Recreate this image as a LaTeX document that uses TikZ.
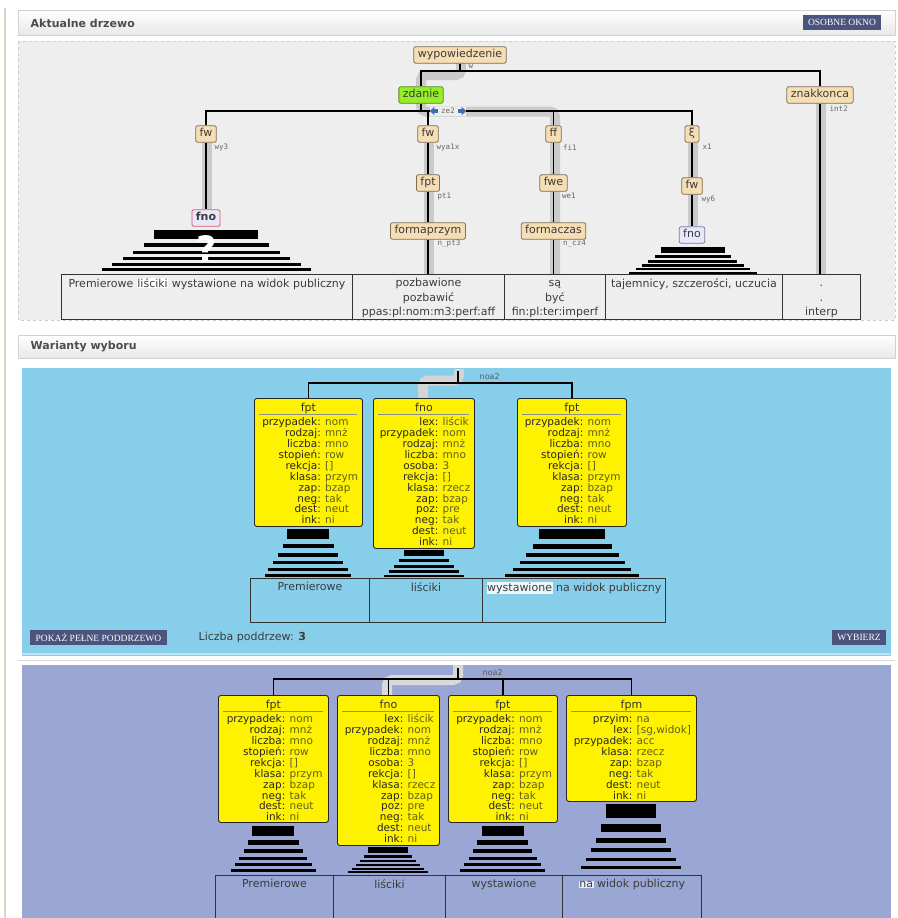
\documentclass[tikz,border=0pt]{standalone}
\usepackage{fontspec}
\setmainfont{DejaVu Sans}
\newfontfamily\dvmono{DejaVu Sans Mono}
\newfontfamily\btnserif{Liberation Serif}
\usetikzlibrary{arrows.meta, positioning, calc}

\definecolor{wheatbg}{RGB}{245,222,179}
\definecolor{nodeedge}{RGB}{125,110,85}
\definecolor{limebg}{RGB}{150,238,40}
\definecolor{limeedge}{RGB}{80,140,20}
\definecolor{lavbg}{RGB}{232,232,252}
\definecolor{rededge}{RGB}{225,85,95}
\definecolor{bluedge}{RGB}{120,120,160}
\definecolor{treebg}{RGB}{238,238,238}
\definecolor{headgray}{RGB}{202,202,202}
\definecolor{btnblue}{RGB}{74,84,124}
\definecolor{skypanel}{RGB}{135,206,235}
\definecolor{lilacpanel}{RGB}{154,167,212}
\definecolor{txtgray}{RGB}{60,60,60}
\definecolor{valolive}{RGB}{95,95,30}
\definecolor{arrowblue}{RGB}{60,110,180}
\definecolor{edgebeige}{RGB}{222,212,192}

% fixed first-line height, so that columns line up
\newcommand\vstrut{\rule{0pt}{8.5pt}}

% feature rows of the yellow boxes
\newcommand\fptKeys{\vstrut przypadek:\\rodzaj:\\liczba:\\stopień:\\rekcja:\\klasa:\\zap:\\neg:\\dest:\\ink:}
\newcommand\fptVals{\vstrut nom\\mnż\\mno\\row\\{[]}\\przym\\bzap\\tak\\neut\\ni}
\newcommand\fnoKeys{\vstrut lex:\\przypadek:\\rodzaj:\\liczba:\\osoba:\\rekcja:\\klasa:\\zap:\\poz:\\neg:\\dest:\\ink:}
\newcommand\fnoVals{\vstrut liścik\\nom\\mnż\\mno\\3\\{[]}\\rzecz\\bzap\\pre\\tak\\neut\\ni}
\newcommand\fpmKeys{\vstrut przyim:\\lex:\\przypadek:\\klasa:\\zap:\\neg:\\dest:\\ink:}
\newcommand\fpmVals{\vstrut na\\{[sg,widok]}\\acc\\rzecz\\bzap\\tak\\neut\\ni}

\newcommand\pyramid[2]{\foreach \w/\ya/\yb in {#2} {\fill ({#1-\w/2},\ya) rectangle ({#1+\w/2},\yb);}}
\newcommand\hlword[2]{{\setlength{\fboxsep}{0.6pt}\colorbox{#1}{#2}}}

\begin{document}
\begin{tikzpicture}[x=1pt, y=-1pt, line width=1.4pt,
    tnode/.style={draw=nodeedge, fill=wheatbg, rounded corners=2pt, line width=0.8pt, inner xsep=4pt, inner ysep=3pt, text height=8pt, text depth=2.5pt, font=\fontsize{11}{13}\selectfont, text=txtgray},
    sub/.style={inner sep=0pt, font=\dvmono\fontsize{7.5}{8}\selectfont, text=black!60},
    headpath/.style={draw=headgray, line width=10pt, rounded corners=5pt},
    cell/.style={draw=black!80, line width=0.9pt, anchor=north west, inner sep=0pt},
    celltext/.style={anchor=north, align=center, inner sep=0pt, yshift=-3.5pt, font=\fontsize{11}{14.5}\selectfont, text=txtgray},
    fbox/.style={draw=black!85, fill=yellow, rounded corners=2.5pt, line width=0.9pt, anchor=north west, inner sep=0pt},
    ftitle/.style={anchor=north, inner sep=0pt, yshift=-4pt, font=\fontsize{11}{13}\selectfont, text=black!80},
    fkeys/.style={anchor=north east, align=right, inner sep=0pt, text=black!85, font=\fontsize{10.5}{10.9}\selectfont},
    fvals/.style={fkeys, anchor=north west, align=left, text=valolive},
    btn/.style={fill=btnblue, text=white, font=\btnserif\fontsize{9.5}{10}\selectfont, inner xsep=5.5pt, inner ysep=0pt, minimum height=15pt},
    hdr/.style={anchor=west, inner sep=0pt, font=\bfseries\fontsize{11}{13}\selectfont, text=black!70},
    fatarrow/.style={-{Triangle[length=4.5pt, width=8pt]}, draw=arrowblue, line width=3.2pt}]
    \useasboundingbox (0,0) rectangle (897,918);
    \fill[white] (0,0) rectangle (897,918);
    \draw[edgebeige, line width=1.5pt] (5,8) -- (5,918);

    % --- current tree ---
    \shade[top color=white, bottom color=black!9, draw=black!18, line width=0.8pt] (18,10) rectangle (895,35);
    \node[hdr] (hdrTree) at (30,23) {Aktualne drzewo};
    \node[btn] (btnOkno) at (842,22.5) {OSOBNE OKNO};
    \draw[black!20, dashed, fill=treebg, line width=0.6pt] (18,41) rectangle (895,320);

    \draw[headpath] (461,63) -- (461,75) -- (421,75) -- (421,86);
    \draw[headpath] (421,103) -- (421,111.5) -- (555,111.5) -- (555,274);
    \draw[headpath] (429,143) -- (429,274);
    \draw[headpath] (207,143) -- (207,209);
    \draw[headpath] (693,143) -- (693,226);
    \draw[headpath] (821,103) -- (821,274);

    \node[tnode] (wyp) at (460,55) {wypowiedzenie};
    \node[tnode, fill=limebg, draw=limeedge] (zdanie) at (421,95) {zdanie};
    \node[tnode] (znak) at (820,95) {znakkonca};
    \node[tnode] (fwA) at (206,134) {fw};
    \node[tnode] (fwB) at (428,134) {fw};
    \node[tnode] (ffC) at (553.5,134) {ff};
    \node[tnode] (xiD) at (692,134) {ξ};
    \node[tnode] (fptB) at (428,183) {fpt};
    \node[tnode] (fweC) at (553.5,183) {fwe};
    \node[tnode] (fwD) at (692,186) {fw};
    \node[tnode, fill=lavbg, draw=rededge, font=\bfseries\fontsize{11}{13}\selectfont] (fnoA) at (206,218) {fno};
    \node[tnode] (formB) at (428,231) {formaprzym};
    \node[tnode] (formC) at (553.5,231) {formaczas};
    \node[tnode, fill=lavbg, draw=bluedge] (fnoD) at (692,235) {fno};

    \node[sub, below right=0pt and 8pt of wyp.south] (lw) {w};
    \node[sub, below right=1pt and 9pt of znak.south] (lint) {int2};
    \node[sub, below right=1pt and 8pt of fwA.south] (lwy3) {wy3};
    \node[sub, below right=1pt and 8pt of fwB.south] (lwya) {wya1x};
    \node[sub, below right=1pt and 9pt of ffC.south] (lfi) {fi1};
    \node[sub, below right=1pt and 10pt of xiD.south] (lx) {x1};
    \node[sub, below right=1pt and 9pt of fptB.south] (lpt) {pt1};
    \node[sub, below right=1pt and 8pt of fweC.south] (lwe) {we1};
    \node[sub, below right=1pt and 9pt of fwD.south] (lwy6) {wy6};
    \node[sub, below right=0pt and 9pt of formB.south] (lnpt) {n\_pt3};
    \node[sub, below right=0pt and 9pt of formC.south] (lncz) {n\_cz4};

    \node[cell, minimum width=291pt, minimum height=45pt] (cA) at (61,274) {};
    \node[cell, minimum width=152pt, minimum height=45pt] (cB) at (352,274) {};
    \node[cell, minimum width=101pt, minimum height=45pt] (cC) at (504,274) {};
    \node[cell, minimum width=177pt, minimum height=45pt] (cD) at (605,274) {};
    \node[cell, minimum width=78pt, minimum height=45pt] (cE) at (782,274) {};
    \node[celltext] (tA) at (cA.north) {\vstrut Premierowe \hlword{white}{liściki} wystawione na widok publiczny};
    \node[celltext] (tB) at (cB.north) {\vstrut pozbawione\\pozbawić\\ppas:pl:nom:m3:perf:aff};
    \node[celltext] (tC) at (cC.north) {\vstrut są\\być\\fin:pl:ter:imperf};
    \node[celltext] (tD) at (cD.north) {\vstrut tajemnicy, szczerości, uczucia};
    \node[celltext] (tE) at (cE.north) {\vstrut .\\.\\interp};

    \coordinate (busW) at (0,71);
    \coordinate (busZ) at (0,111);
    \draw (wyp.south) -- (wyp.south |- busW);
    \draw (zdanie.north) -- (zdanie.north |- busW) -- (znak.north |- busW) -- (znak.north);
    \draw (zdanie.south) -- (zdanie.south |- busZ);
    \draw (fwA.north) -- (fwA.north |- busZ) -- (xiD.north |- busZ) -- (xiD.north);
    \draw (fwB.north) -- (fwB.north |- busZ);
    \draw (ffC.north) -- (ffC.north |- busZ);
    \draw (fwA) -- (fnoA);
    \draw (fwB) -- (fptB);
    \draw (fptB) -- (formB);
    \draw (formB) -- (formB |- cB.north);
    \draw (ffC) -- (fweC);
    \draw (fweC) -- (formC);
    \draw (formC) -- (formC |- cC.north);
    \draw (xiD) -- (fwD);
    \draw (fwD) -- (fnoD);
    \draw (znak) -- (znak |- cE.north);

    \node[sub, fill=treebg, minimum width=36pt, minimum height=9pt] (lze) at (448,111) {ze2};
    \draw[fatarrow] ([xshift=9pt]lze.west) -- ++(-8.5,0);
    \draw[fatarrow] ([xshift=-9pt]lze.east) -- ++(8.5,0);

    \pyramid{206}{104/230/239, 125/243/247, 147/251/254, 167/257/260, 189/263/265.5, 209/268/270.5}
    \pyramid{692.5}{64/247/253, 76/255/257.5, 89/260/262.5, 102/264/266.5, 114/268/270, 128/272/273.5}
    \node[inner sep=0pt, text=white, font=\bfseries\fontsize{35}{35}\selectfont] (qmark) at (207,249) {?};

    % --- variants ---
    \shade[top color=white, bottom color=black!9, draw=black!18, line width=0.8pt] (18,335) rectangle (895,358);
    \node[hdr] (hdrVar) at (30,347) {Warianty wyboru};

    % first variant
    \fill[skypanel] (22,368) rectangle (891,656);
    \draw[skypanel!55!white, line width=2pt] (22,654) -- (891,654);
    \draw[headpath, draw=black!17] (459,369) -- (459,380.5) -- (423,380.5) -- (423,398);

    \node[fbox, minimum width=108pt, minimum height=128pt] (fptA) at (254,398) {};
    \node[fbox, minimum width=101pt, minimum height=150pt] (fnoA2) at (373,398) {};
    \node[fbox, minimum width=109pt, minimum height=128pt] (fptB2) at (517,398) {};
    \node[ftitle] (tfptA) at (fptA.north) {fpt};
    \node[ftitle] (tfnoA2) at (fnoA2.north) {fno};
    \node[ftitle] (tfptB2) at (fptB2.north) {fpt};
    \draw[black!45, line width=0.8pt] (fptA.north west) ++(5,16) -- ++(98,0);
    \draw[black!45, line width=0.8pt] (fnoA2.north west) ++(5,16) -- ++(91,0);
    \draw[black!45, line width=0.8pt] (fptB2.north west) ++(5,16) -- ++(99,0);
    \node[fkeys] (kfptA) at (321.5,416.5) {\fptKeys};
    \node[fvals] (vfptA) at (324.5,416.5) {\fptVals};
    \node[fkeys] (kfnoA2) at (439,416.5) {\fnoKeys};
    \node[fvals] (vfnoA2) at (442,416.5) {\fnoVals};
    \node[fkeys] (kfptB2) at (584,416.5) {\fptKeys};
    \node[fvals] (vfptB2) at (587,416.5) {\fptVals};

    \coordinate (rootA) at (458,371);
    \coordinate (busA) at (458,383);
    \draw (rootA) -- (busA);
    \draw (fptA.north) -- (fptA.north |- busA) -- (fptB2.north |- busA) -- (fptB2.north);
    \node[inner sep=0pt, anchor=west, font=\fontsize{8}{9}\selectfont, text=black!65] (noaA) at (479,376.5) {noa2};

    \pyramid{308}{42/529/539, 51/544/548, 60/553/557, 70/561/564, 80/568/571, 86/574/577}
    \pyramid{424}{40/550/556, 50/559/562, 60/565/567.5, 70/570/572.5, 80/575/577}
    \pyramid{572}{66/529/539, 79/544/549, 93/553/557, 105/561/564, 118/568/571, 134/574/577}

    \node[cell, minimum width=119pt, minimum height=44pt] (bA) at (250,578) {};
    \node[cell, minimum width=113pt, minimum height=44pt] (bB) at (369,578) {};
    \node[cell, minimum width=183pt, minimum height=44pt] (bC) at (482,578) {};
    \node[celltext] (tbA) at (bA.north) {\vstrut Premierowe};
    \node[celltext] (tbB) at (bB.north) {\vstrut liściki};
    \node[celltext] (tbC) at (bC.north) {\vstrut\hlword{white!85!skypanel}{wystawione} na widok publiczny};

    \node[btn] (btnPokaz) at (98.5,637.5) {POKAŻ PEŁNE PODDRZEWO};
    \node[anchor=west, inner sep=0pt, font=\fontsize{11}{13}\selectfont, text=txtgray] (liczba) at (198,637.5) {Liczba poddrzew: \textbf{3}};
    \node[btn] (btnWybierz) at (859,637.5) {WYBIERZ};

    \draw[black!15, line width=1pt] (18,660) -- (895,660);

    % second variant
    \fill[lilacpanel] (22,665) rectangle (891,918);
    \draw[headpath, draw=black!15] (458,665) -- (458,680) -- (387,680) -- (387,695);

    \node[fbox, minimum width=110pt, minimum height=127pt] (fptC) at (218,695) {};
    \node[fbox, minimum width=102pt, minimum height=150pt] (fnoC) at (337,695) {};
    \node[fbox, minimum width=109pt, minimum height=127pt] (fptD) at (448,695) {};
    \node[fbox, minimum width=130pt, minimum height=106pt] (fpmD) at (566,695) {};
    \node[ftitle] (tfptC) at (fptC.north) {fpt};
    \node[ftitle] (tfnoC) at (fnoC.north) {fno};
    \node[ftitle] (tfptD) at (fptD.north) {fpt};
    \node[ftitle] (tfpmD) at (fpmD.north) {fpm};
    \draw[black!45, line width=0.8pt] (fptC.north west) ++(5,16.5) -- ++(100,0);
    \draw[black!45, line width=0.8pt] (fnoC.north west) ++(5,16.5) -- ++(92,0);
    \draw[black!45, line width=0.8pt] (fptD.north west) ++(5,16.5) -- ++(99,0);
    \draw[black!45, line width=0.8pt] (fpmD.north west) ++(5,16.5) -- ++(120,0);
    \node[fkeys] (kfptC) at (286,713.5) {\fptKeys};
    \node[fvals] (vfptC) at (289,713.5) {\fptVals};
    \node[fkeys] (kfnoC) at (404,713.5) {\fnoKeys};
    \node[fvals] (vfnoC) at (407,713.5) {\fnoVals};
    \node[fkeys] (kfptD) at (515.5,713.5) {\fptKeys};
    \node[fvals] (vfptD) at (518.5,713.5) {\fptVals};
    \node[fkeys] (kfpmD) at (633,713.5) {\fpmKeys};
    \node[fvals] (vfpmD) at (636,713.5) {\fpmVals};

    \coordinate (rootB) at (458,668);
    \coordinate (busB) at (458,679);
    \draw (rootB) -- (busB);
    \draw (fptC.north) -- (fptC.north |- busB) -- (fpmD.north |- busB) -- (fpmD.north);
    \draw (fnoC.north) -- (fnoC.north |- busB);
    \draw (fptD.north) -- (fptD.north |- busB);
    \node[inner sep=0pt, anchor=west, font=\fontsize{8}{9}\selectfont, text=black!65] (noaB) at (482,673) {noa2};

    \pyramid{273}{42/826/836, 51/840/845, 59/849/853, 68/857/859.5, 77/863/865.5, 85/869/871.5}
    \pyramid{388}{40/847/853, 48/855/858, 56/860/862, 64/864/866, 72/868/870, 80/871/873}
    \pyramid{502.5}{42/826/836, 51/840/845, 59/849/853, 68/857/859.5, 77/863/865.5, 85/869/871.5}
    \pyramid{631}{50/804/818, 60/824/832, 70/838/843, 80/848/852, 90/858/861, 100/866/869}

    \node[cell, minimum width=118pt, minimum height=50pt] (pA) at (215,875) {};
    \node[cell, minimum width=112pt, minimum height=50pt] (pB) at (333,875) {};
    \node[cell, minimum width=117pt, minimum height=50pt] (pC) at (445,875) {};
    \node[cell, minimum width=139pt, minimum height=50pt] (pD) at (562,875) {};
    \node[celltext] (tpA) at (pA.north) {\vstrut Premierowe};
    \node[celltext] (tpB) at (pB.north) {\vstrut liściki};
    \node[celltext] (tpC) at (pC.north) {\vstrut wystawione};
    \node[celltext] (tpD) at (pD.north) {\vstrut\hlword{white!80!lilacpanel}{na} widok publiczny};
\end{tikzpicture}
\end{document}
